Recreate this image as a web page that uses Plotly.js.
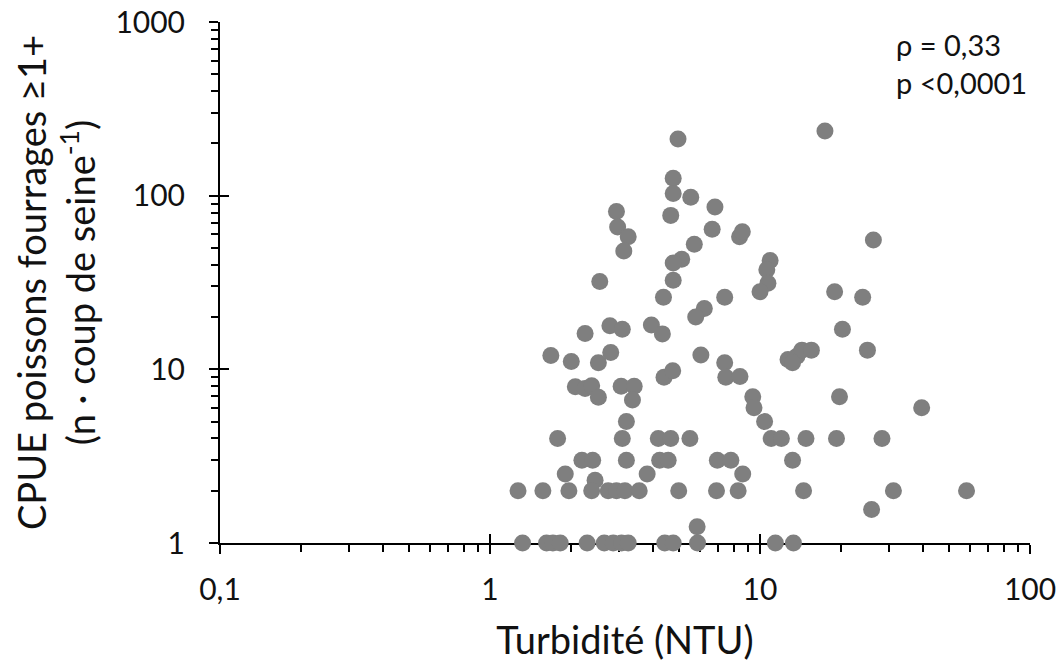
<!DOCTYPE html>
<html>
<head>
<meta charset="utf-8">
<script src="https://cdn.plot.ly/plotly-3.0.1.min.js"></script>
<style>html,body{margin:0;padding:0;background:#fff;}#chart{width:1062px;height:667px;}</style>
</head>
<body>
<div id="chart"></div>
<script>
// Turbidity (NTU)
const turbidity = [
  4.97, 4.77, 4.77, 5.54, 6.81, 2.94, 4.67, 2.97, 3.25, 3.13,
  6.65, 8.4, 8.6, 5.71, 5.13, 4.77, 4.77, 2.55, 4.39, 7.4,
  6.22, 5.78, 2.25, 2.78, 3.09, 3.96, 4.35, 10.9, 10.6, 10.7,
  10.0, 17.4, 26.3, 18.9, 24, 20.2, 25, 12.7, 13.7, 14.3,
  15.5, 13.2, 1.68, 2.0, 2.52, 2.80, 6.04, 7.4, 7.47, 8.43,
  4.41, 4.75, 2.07, 2.25, 2.38, 2.52, 3.06, 3.42, 3.37, 9.4,
  9.5, 3.2, 10.4, 1.78, 3.09, 4.2, 4.67, 5.5, 11.0, 12.0,
  14.8, 19.2, 28.3, 19.7, 39.7, 2.19, 2.40, 3.2, 4.25, 4.57,
  6.95, 7.8, 13.2, 1.9, 2.45, 3.82, 8.63,
  1.27, 1.57, 1.96, 2.38, 2.74, 2.94, 3.16, 3.57, 5.0, 6.9, 8.3, 14.5, 31.2, 58.2,
  25.9, 5.85,
  1.32, 1.62, 1.71, 1.82, 2.29, 2.65, 2.86, 3.07, 3.25, 4.44, 4.77, 5.87, 11.4, 13.3
];
// CPUE forage fish >=1+ (n per seine haul)
const cpue = [
  212, 126, 103, 98, 86, 81, 77, 66, 58, 48,
  64, 58, 62, 52.5, 43, 41, 32.6, 32, 26, 26,
  22.4, 20, 16.1, 17.8, 17, 18, 16, 42.3, 37.5, 31.3,
  28, 236, 55.5, 28, 26, 17, 12.9, 11.4, 11.9, 12.9,
  12.9, 10.9, 12, 11.1, 10.9, 12.5, 12.1, 10.9, 9.0, 9.1,
  9.0, 9.8, 7.95, 7.75, 8.05, 6.9, 8.0, 8.0, 6.66, 6.95,
  6.0, 5.0, 5.0, 4, 4, 4, 4, 4, 4, 4,
  4, 4, 4, 6.95, 6.0, 3, 3, 3, 3, 3,
  3, 3, 3, 2.5, 2.3, 2.5, 2.5,
  2, 2, 2, 2, 2, 2, 2, 2, 2, 2, 2, 2, 2, 2,
  1.56, 1.24,
  1, 1, 1, 1, 1, 1, 1, 1, 1, 1, 1, 1, 1, 1
];
const xTickVals = [0.1, 1, 10, 100];
const xTickText = ['0,1', '1', '10', '100'];
const yTickVals = [1, 10, 100, 1000];
const yTickText = ['1', '10', '100', '1000'];
const statLines = ['ρ = 0,33', 'p <0,0001'];
const xTitle = 'Turbidité (NTU)';
const yTitle = 'CPUE poissons fourrages ≥1+<br>(n · coup de seine<sup>-1</sup>)';

function minorVals(lo, hi) {
  const out = [];
  for (let d = lo; d < hi; d++) for (let m = 2; m <= 9; m++) out.push(m * Math.pow(10, d));
  return out;
}

const FONT = 'Lato, "Open Sans", sans-serif';
const INK = '#111';

const trace = {
  x: turbidity, y: cpue, type: 'scatter', mode: 'markers',
  marker: {size: 17, color: '#7f7f7f', line: {width: 0}},
  cliponaxis: false, hoverinfo: 'x+y'
};
// empty trace to carry the overlay axes that draw the inner half of the major ticks
const tickTrace = {x: [], y: [], xaxis: 'x2', yaxis: 'y2', type: 'scatter', mode: 'markers', hoverinfo: 'skip'};

const axisCommon = {
  type: 'log', showgrid: false, zeroline: false,
  showline: true, linecolor: '#000', linewidth: 2,
  ticks: 'outside', ticklen: 9, tickwidth: 2, tickcolor: '#000',
  tickfont: {family: FONT, size: 30, color: INK},
  layer: 'below traces', fixedrange: true
};
const overlayCommon = {
  type: 'log', showgrid: false, zeroline: false, showline: false,
  ticks: 'inside', ticklen: 9, tickwidth: 2, tickcolor: '#000',
  showticklabels: false, layer: 'below traces', fixedrange: true
};

const layout = {
  width: 1062, height: 667,
  margin: {l: 220, r: 32, t: 22, b: 124},
  paper_bgcolor: '#fff', plot_bgcolor: '#fff',
  showlegend: false,
  font: {family: FONT, color: INK},
  xaxis: Object.assign({}, axisCommon, {
    range: [-1, 2], tickvals: xTickVals, ticktext: xTickText,
    ticklabelstandoff: 10,
    minor: {tickvals: minorVals(-1, 2), ticks: 'outside', ticklen: 7, tickwidth: 2, tickcolor: '#000', showgrid: false},
    title: {text: xTitle, font: {family: FONT, size: 38, color: INK}, standoff: 22}
  }),
  yaxis: Object.assign({}, axisCommon, {
    range: [0, 3], tickvals: yTickVals, ticktext: yTickText,
    ticklabelstandoff: 18,
    minor: {tickvals: minorVals(0, 3), ticks: 'outside', ticklen: 7, tickwidth: 2, tickcolor: '#000', showgrid: false},
    title: {text: yTitle, font: {family: FONT, size: 38, color: INK}, standoff: 8}
  }),
  xaxis2: Object.assign({}, overlayCommon, {overlaying: 'x', anchor: 'y', side: 'bottom', range: [-1, 2], tickvals: xTickVals}),
  yaxis2: Object.assign({}, overlayCommon, {overlaying: 'y', anchor: 'x', side: 'left', range: [0, 3], tickvals: yTickVals}),
  annotations: [{
    xref: 'paper', yref: 'paper', x: 0.832, y: 0.995, xanchor: 'left', yanchor: 'top',
    text: statLines.join('<br>'), showarrow: false, align: 'left',
    font: {family: FONT, size: 29, color: INK}
  }]
};

Plotly.newPlot('chart', [trace, tickTrace], layout, {displayModeBar: false, staticPlot: true});
</script>
</body>
</html>
